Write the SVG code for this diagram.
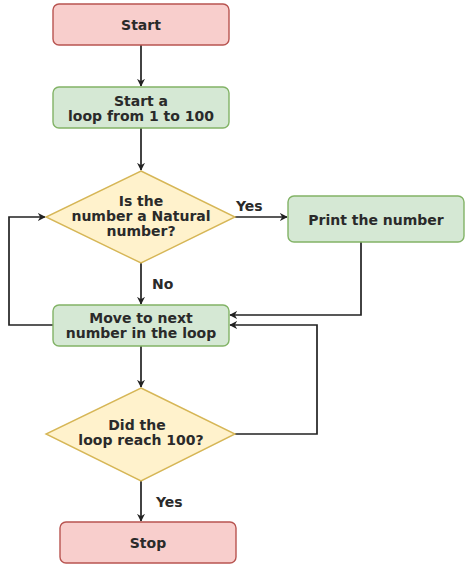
<svg xmlns="http://www.w3.org/2000/svg" width="474" height="572" viewBox="0 0 474 572">
<style>
text{font-family:"DejaVu Sans",Verdana,sans-serif;font-weight:bold;font-size:14px;fill:#2a2a2a;text-anchor:middle}
.red{fill:#f8cecc;stroke:#b85450;stroke-width:1.4}
.green{fill:#d5e8d4;stroke:#82b366;stroke-width:1.4}
.yel{fill:#fff2cc;stroke:#d6b656;stroke-width:1.4}
.c{fill:none;stroke:#222;stroke-width:1.7;marker-end:url(#a)}
.lbl{text-anchor:start}
</style>
<defs>
<marker id="a" viewBox="0 0 10 10" refX="9" refY="5" markerWidth="8" markerHeight="8" markerUnits="userSpaceOnUse" orient="auto">
<path d="M0,0 L10,5 L0,10 L3,5 Z" fill="#222"/>
</marker>
</defs>
<rect width="474" height="572" fill="#fff"/>
<g id="connectors">
<path class="c" d="M141,45 V86"/>
<path class="c" d="M141,128 V170"/>
<path class="c" d="M235,217 H287"/>
<path class="c" d="M141,263 V304"/>
<path class="c" d="M361,242 V315 H230"/>
<path class="c" d="M235,434 H317 V325 H230"/>
<path class="c" d="M53,325 H9 V217 H45"/>
<path class="c" d="M141,346 V387"/>
<path class="c" d="M141,481 V521"/>
<text class="lbl" x="236" y="211">Yes</text>
<text class="lbl" x="152" y="289">No</text>
<text class="lbl" x="156" y="507">Yes</text>
</g>
<g id="start"><rect class="red" x="53" y="4" width="176" height="41" rx="6"/><text x="141" y="30">Start</text></g>
<g id="loop"><rect class="green" x="53" y="87" width="176" height="41" rx="6"/><text x="141" y="106">Start a</text><text x="141" y="121">loop from 1 to 100</text></g>
<g id="natural"><path class="yel" d="M141,171 L235,217 L141,263 L46,217 Z"/><text x="141" y="206">Is the</text><text x="141" y="221">number a Natural</text><text x="141" y="236">number?</text></g>
<g id="print"><rect class="green" x="288" y="196" width="176" height="46" rx="6"/><text x="376" y="225">Print the number</text></g>
<g id="move"><rect class="green" x="53" y="305" width="176" height="41" rx="6"/><text x="141" y="323">Move to next</text><text x="141" y="338">number in the loop</text></g>
<g id="reach"><path class="yel" d="M141,388 L235,434 L141,481 L46,434 Z"/><text x="137" y="430">Did the</text><text x="141" y="445">loop reach 100?</text></g>
<g id="stop"><rect class="red" x="60" y="522" width="176" height="41" rx="6"/><text x="148" y="548">Stop</text></g>
</svg>
